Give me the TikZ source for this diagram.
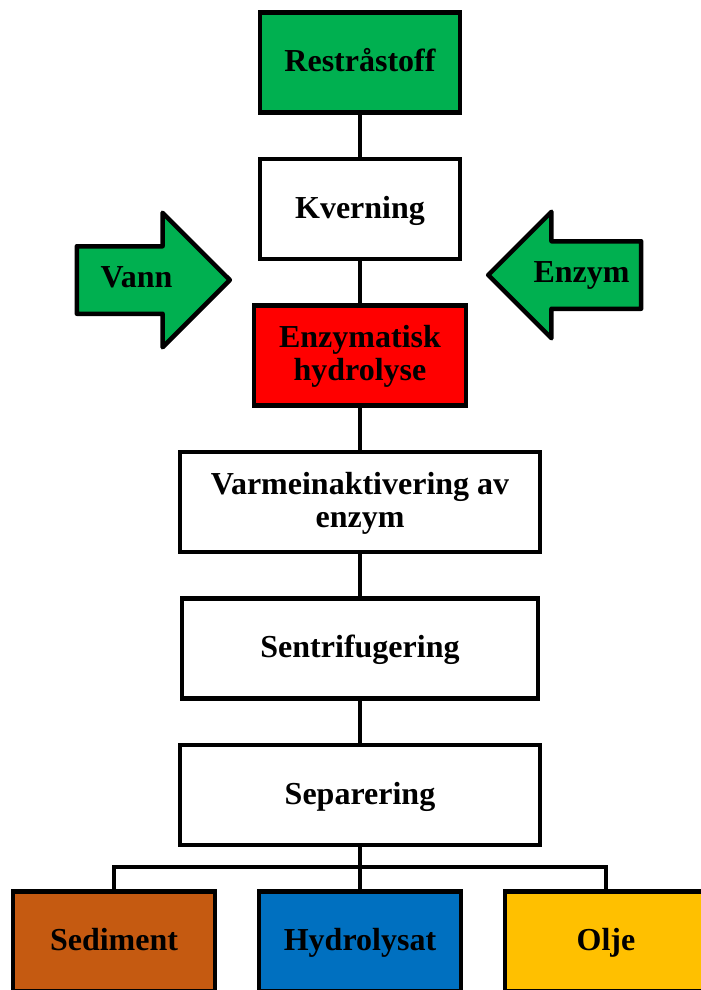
\documentclass[tikz,border=0pt]{standalone}
\usepackage{fontspec}
\setmainfont{Liberation Serif}
\usetikzlibrary{positioning, shapes.arrows}
\definecolor{grn}{HTML}{00B050}
\definecolor{rd}{HTML}{FF0000}
\definecolor{brn}{HTML}{C55A11}
\definecolor{blu}{HTML}{0070C0}
\definecolor{ylw}{HTML}{FFC000}
\tikzset{
  stepbox/.style={rectangle, draw, line width=4.5pt, fill=white, outer sep=0pt,
                  minimum width=200pt, minimum height=100pt,
                  text height=25pt, text depth=6.5pt,
                  align=center, font=\fontsize{32}{33}\selectfont\bfseries},
  twoline/.style={text height=57pt},
  feed/.style={single arrow, draw, line width=4.5pt, fill=grn, line join=round,
               minimum height=153pt, text height=20pt, text depth=6pt,
               inner xsep=2pt, inner ysep=18.5pt,
               font=\fontsize{32}{33}\selectfont\bfseries},
  link/.style={line width=4pt},
}

\begin{document}
\begin{tikzpicture}[x=1pt, y=-1pt, node distance=46.5pt]
  \useasboundingbox (0,0) rectangle (701,990);
  \clip (0,0) rectangle (701,990);
  \node[stepbox, fill=grn] (rest) at (360,62.5) {Restråstoff};
  \node[stepbox, below=of rest] (kvern) {Kverning};
  \node[stepbox, twoline, fill=rd, minimum width=212pt, below=of kvern] (hydro) {Enzymatisk\\hydrolyse};
  \node[stepbox, twoline, minimum width=360pt, below=of hydro] (varme) {Varmeinaktivering av\\enzym};
  \node[stepbox, minimum width=356pt, below=of varme] (sentri) {Sentrifugering};
  \node[stepbox, minimum width=360pt, below=of sentri] (sep) {Separering};
  \node[stepbox, fill=blu, minimum width=202pt, below=of sep] (hyd) {Hydrolysat};
  \node[stepbox, fill=brn, minimum width=202pt, left=44pt of hyd] (sed) {Sediment};
  \node[stepbox, fill=ylw, minimum width=202pt, right=44pt of hyd] (olje) {Olje};

  \node[feed, single arrow head extend=33.5pt, anchor=tip] (vann) at (233,280) {Vann};
  \node[feed, single arrow head extend=29.5pt, shape border rotate=180, anchor=tip] (enz) at (485,275) {Enzym};

  \draw[link] (rest) -- (kvern);
  \draw[link] (kvern) -- (hydro);
  \draw[link] (hydro) -- (varme);
  \draw[link] (varme) -- (sentri);
  \draw[link] (sentri) -- (sep);
  \draw[link] (sep.south) -- ++(0,22) coordinate (br);
  \draw[link] (br) -- (hyd);
  \draw[link] (sed.north) |- (br) -| (olje.north);
\end{tikzpicture}
\end{document}
